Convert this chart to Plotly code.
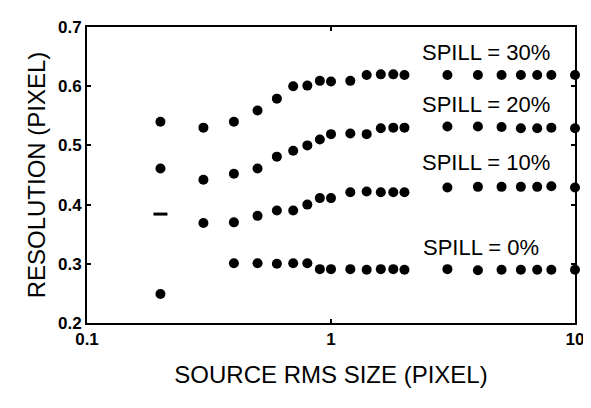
import math
import plotly.graph_objects as go

# Source RMS size (pixel)
x_main = [0.2, 0.3, 0.4, 0.5, 0.6, 0.7, 0.8, 0.9, 1.0, 1.2, 1.4, 1.6, 1.8, 2.0,
          3, 4, 5, 6, 7, 8, 10]
x_spill0 = [0.2, 0.4, 0.5, 0.6, 0.7, 0.8, 0.9, 1.0, 1.2, 1.4, 1.6, 1.8, 2.0,
            3, 4, 5, 6, 7, 8, 10]

# Resolution (pixel)
spill30 = [0.540, 0.530, 0.540, 0.559, 0.579, 0.600, 0.601, 0.609, 0.608, 0.609,
           0.619, 0.620, 0.620, 0.619, 0.619, 0.619, 0.619, 0.619, 0.619, 0.619, 0.619]
spill20 = [0.461, 0.442, 0.452, 0.461, 0.481, 0.491, 0.500, 0.510, 0.519, 0.520,
           0.519, 0.529, 0.530, 0.530, 0.532, 0.532, 0.531, 0.529, 0.529, 0.530, 0.529]
spill10 = [0.384, 0.369, 0.370, 0.381, 0.390, 0.390, 0.400, 0.411, 0.411, 0.421,
           0.422, 0.421, 0.421, 0.421, 0.429, 0.430, 0.430, 0.430, 0.430, 0.431, 0.429]
spill0 = [0.249, 0.301, 0.301, 0.300, 0.301, 0.301, 0.291, 0.291, 0.291, 0.290,
          0.291, 0.291, 0.290, 0.291, 0.289, 0.290, 0.290, 0.290, 0.290, 0.290]

labels = ["SPILL = 30%", "SPILL = 20%", "SPILL = 10%", "SPILL = 0%"]
label_x = [4.3, 4.3, 4.3, 4.1]
label_y = [0.657, 0.569, 0.471, 0.327]

FONT = "Liberation Sans, Arial, Helvetica, sans-serif"

fig = go.Figure()
series = [(x_main, spill30, labels[0]), (x_main, spill20, labels[1]),
          (x_main, spill10, labels[2]), (x_spill0, spill0, labels[3])]
for xs, ys, name in series:
    symbols = ["circle"] * len(ys)
    widths = [0] * len(ys)
    if name == labels[2]:
        symbols[0] = "line-ew"
        widths[0] = 3
    fig.add_trace(go.Scatter(
        x=xs, y=ys, mode="markers", name=name,
        marker=dict(color="black", size=10, symbol=symbols,
                    line=dict(color="black", width=widths)),
        showlegend=False, cliponaxis=False))

for t, lx, ly in zip(labels, label_x, label_y):
    fig.add_annotation(x=math.log10(lx), y=ly, xref="x", yref="y", text=t, showarrow=False,
                       font=dict(family=FONT, size=22, color="black"))

axis_common = dict(showline=True, linecolor="black", linewidth=2, mirror="ticks",
                   ticks="inside", ticklen=4, tickcolor="black", tickwidth=1.5,
                   showgrid=False, zeroline=False)

fig.update_xaxes(type="log", range=[-1, 1], tickvals=[0.1, 1, 10],
                 ticktext=["0.1", "1", "10"],
                 tickfont=dict(family=FONT, size=17, color="black", weight="bold"),
                 title=dict(text="SOURCE RMS SIZE (PIXEL)", standoff=18,
                            font=dict(family=FONT, size=24, color="black")),
                 **axis_common)
fig.update_yaxes(range=[0.2, 0.7], dtick=0.1, tick0=0.2, tickformat=".1f",
                 tickfont=dict(family=FONT, size=17, color="black", weight="bold"),
                 title=dict(text="RESOLUTION (PIXEL)", standoff=6,
                            font=dict(family=FONT, size=24, color="black")),
                 **axis_common)

fig.update_layout(width=583, height=400, plot_bgcolor="white", paper_bgcolor="white",
                  margin=dict(l=79, r=16, t=19, b=85, autoexpand=False))

fig.write_html("out.html")
